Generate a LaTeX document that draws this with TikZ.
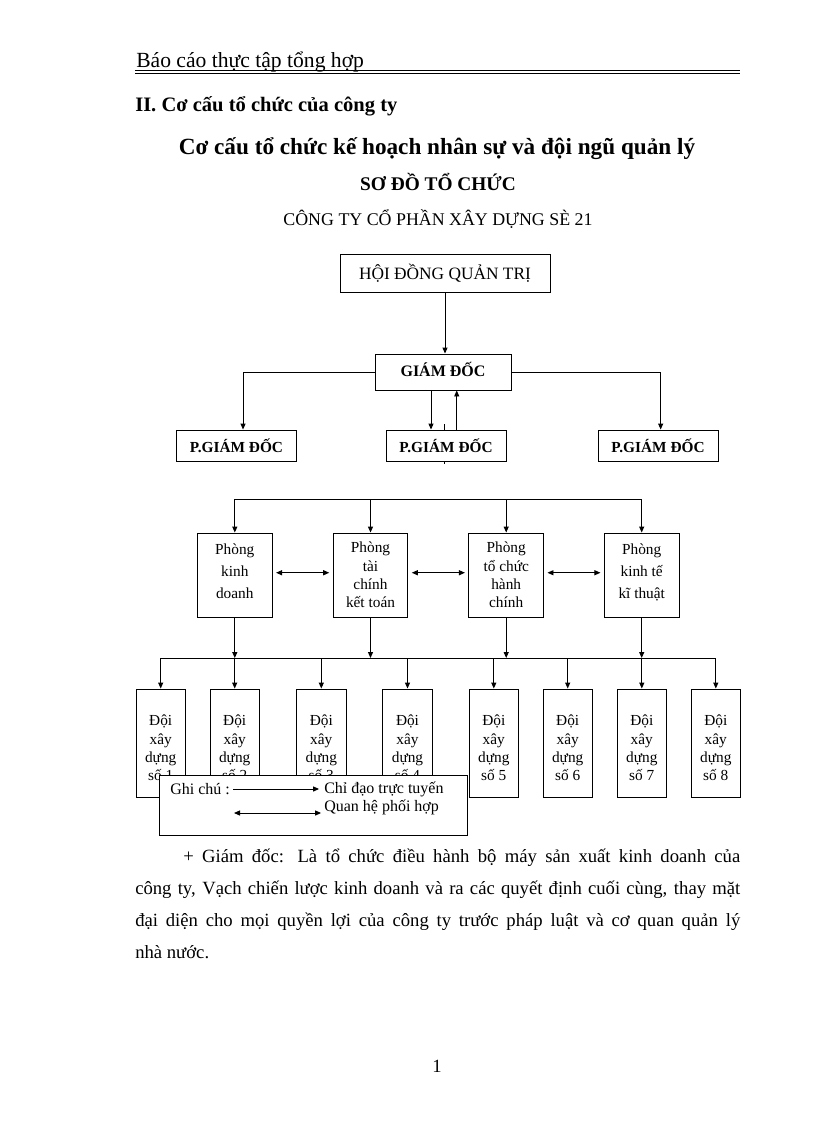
\documentclass[tikz,border=0pt]{standalone}
\usepackage{fontspec}
\setmainfont{Liberation Serif}
\usetikzlibrary{arrows.meta}
\newcommand\topgap{\rule{0pt}{15.5pt}}
\newcommand\botgap{\rule[-6pt]{0pt}{6pt}}
\tikzstyle{line} = [line width=0.7pt]
\tikzstyle{arrow} = [line width=0.7pt,-{Triangle[length=4.5pt,width=3.8pt]}]
\tikzstyle{both} = [line width=0.7pt,{Triangle[length=4.5pt,width=3.8pt]}-{Triangle[length=4.5pt,width=3.8pt]}]
\tikzstyle{box} = [draw,line width=0.7pt,fill=white,inner sep=0pt,align=center]
\tikzstyle{pbox} = [box,minimum width=90pt,minimum height=23.25pt,font=\bfseries\fontsize{11.5}{13}\selectfont]
\tikzstyle{dept} = [box,minimum width=56pt,minimum height=63pt,font=\fontsize{11.5}{13.7}\selectfont]
\tikzstyle{deptwide} = [dept,font=\fontsize{11.5}{16.5}\selectfont]
\tikzstyle{team} = [box,minimum width=37pt,minimum height=81pt,font=\fontsize{11.5}{13.7}\selectfont]
\tikzstyle{note} = [anchor=west,inner sep=0pt,font=\fontsize{12}{13.5}\selectfont]

\begin{document}
\begin{tikzpicture}[x=0.75pt,y=-0.75pt]
	\useasboundingbox (0,0) rectangle (816,1123);
	\node[anchor=base west,inner sep=0pt,font=\fontsize{16.2}{18}\selectfont] (header) at (136,68) {Báo cáo thực tập tổng hợp};
	\draw[line width=1.1pt] (135,70.5) -- (740,70.5);
	\draw[line width=0.55pt] (135,73.5) -- (740,73.5);
	\node[anchor=base west,inner sep=0pt,font=\bfseries\fontsize{15.4}{17}\selectfont] (section) at (135,112) {II. Cơ cấu tổ chức của công ty};
	\node[anchor=base,inner sep=0pt,font=\bfseries\fontsize{17.4}{19}\selectfont] (title) at (437,155) {Cơ cấu tổ chức kế hoạch nhân sự và đội ngũ quản lý};
	\node[anchor=base,inner sep=0pt,font=\bfseries\fontsize{14.5}{16}\selectfont] (sodo) at (438,191) {SƠ ĐỒ TỔ CHỨC};
	\node[anchor=base,inner sep=0pt,font=\fontsize{13.4}{15}\selectfont] (company) at (438,226) {CÔNG TY CỔ PHẦN XÂY DỰNG SÈ 21};

	\node[box,minimum width=157.5pt,minimum height=28.5pt,font=\fontsize{13}{15}\selectfont] (hdqt) at (445,273) {HỘI ĐỒNG QUẢN TRỊ};
	\node[box,minimum width=102pt,minimum height=27pt,text depth=4.5pt,font=\bfseries\fontsize{12}{14}\selectfont] (gd) at (443,372) {GIÁM ĐỐC};
	\node[pbox] (pgd1) at (236.5,445.5) {P.GIÁM ĐỐC};
	\node[pbox] (pgd2) at (446,445.5) {P.GIÁM ĐỐC};
	\node[pbox] (pgd3) at (658,445.5) {P.GIÁM ĐỐC};
	\draw[arrow] (hdqt.south) -- (hdqt.south |- gd.north);
	\draw[arrow] (gd.west) -| ([xshift=4.9pt]pgd1.north);
	\draw[arrow] (gd.east) -| ([xshift=2pt]pgd3.north);
	\draw[arrow] ([xshift=-9pt]gd.south) -- ([xshift=-9pt]gd.south |- pgd2.north);
	\draw[arrow] ([xshift=10.3pt]gd.south |- pgd2.north) -- ([xshift=10.3pt]gd.south);
	\draw[line] ([xshift=-1.3pt]pgd2.north) -- ++(0,-6);
	\draw[line] ([xshift=-1.3pt]pgd2.south) -- ++(0,3);

	\coordinate (deptbus) at (0,499);
	\node[deptwide] (d1) at (234.8,575) {Phòng\\kinh\\doanh\botgap};
	\node[dept] (d2) at (370.5,575) {Phòng\\tài\\chính\\kết toán};
	\node[dept] (d3) at (506.2,575) {Phòng\\tổ chức\\hành\\chính};
	\node[deptwide] (d4) at (641.7,575) {Phòng\\kinh tế\\kĩ thuật\botgap};
	\draw[line] (d1.north |- deptbus) -- (d4.north |- deptbus);
	\draw[arrow] (d1.north |- deptbus) -- (d1.north);
	\draw[arrow] (d2.north |- deptbus) -- (d2.north);
	\draw[arrow] (d3.north |- deptbus) -- (d3.north);
	\draw[arrow] (d4.north |- deptbus) -- (d4.north);
	\draw[both,shorten <=2.6pt,shorten >=2.6pt] ([yshift=1.7pt]d1.east) -- ([yshift=1.7pt]d2.west);
	\draw[both,shorten <=2.6pt,shorten >=2.6pt] ([yshift=1.7pt]d2.east) -- ([yshift=1.7pt]d3.west);
	\draw[both,shorten <=2.6pt,shorten >=2.6pt] ([yshift=1.7pt]d3.east) -- ([yshift=1.7pt]d4.west);

	\coordinate (teambus) at (0,658);
	\node[team] (t1) at (160.7,743) {\topgap Đội\\xây\\dựng\\số 1};
	\node[team] (t2) at (234.7,743) {\topgap Đội\\xây\\dựng\\số 2};
	\node[team] (t3) at (321.3,743) {\topgap Đội\\xây\\dựng\\số 3};
	\node[team] (t4) at (407.5,743) {\topgap Đội\\xây\\dựng\\số 4};
	\node[team] (t5) at (493.8,743) {\topgap Đội\\xây\\dựng\\số 5};
	\node[team] (t6) at (567.7,743) {\topgap Đội\\xây\\dựng\\số 6};
	\node[team] (t7) at (641.8,743) {\topgap Đội\\xây\\dựng\\số 7};
	\node[team] (t8) at (715.8,743) {\topgap Đội\\xây\\dựng\\số 8};
	\draw[arrow] (d1.south) -- (d1.south |- teambus);
	\draw[arrow] (d2.south) -- (d2.south |- teambus);
	\draw[arrow] (d3.south) -- (d3.south |- teambus);
	\draw[arrow] (d4.south) -- (d4.south |- teambus);
	\draw[line] (t1.north |- teambus) -- (t8.north |- teambus);
	\draw[arrow] (t1.north |- teambus) -- (t1.north);
	\draw[arrow] (t2.north |- teambus) -- (t2.north);
	\draw[arrow] (t3.north |- teambus) -- (t3.north);
	\draw[arrow] (t4.north |- teambus) -- (t4.north);
	\draw[arrow] (t5.north |- teambus) -- (t5.north);
	\draw[arrow] (t6.north |- teambus) -- (t6.north);
	\draw[arrow] (t7.north |- teambus) -- (t7.north);
	\draw[arrow] (t8.north |- teambus) -- (t8.north);

	\node[box,minimum width=231.3pt,minimum height=45pt] (legend) at (313.5,805) {};
	\node[note] (ghichu) at (170,789) {Ghi chú :};
	\node[note] (chidao) at (324,789) {Chỉ đạo trực tuyến};
	\node[note] (quanhe) at (324,807) {Quan hệ phối hợp};
	\coordinate (phoihop) at (234,813);
	\draw[arrow,shorten <=2.2pt,shorten >=3.7pt] (ghichu.east) -- (chidao.west);
	\draw[both] (phoihop) -- ([xshift=-2.2pt]phoihop -| quanhe.west);

	\node[anchor=north west,inner sep=0pt,text width=453.75pt,align=justify,font=\fontsize{14}{23.8}\selectfont] (para) at (135,849) {\hspace*{36pt}+ Giám đốc: Là tổ chức điều hành bộ máy sản xuất kinh doanh của\linebreak công ty, Vạch chiến lược kinh doanh và ra các quyết định cuối cùng, thay mặt\linebreak đại diện cho mọi quyền lợi của công ty trước pháp luật và cơ quan quản lý\linebreak nhà nước.};
	\node[anchor=base,inner sep=0pt,font=\fontsize{14}{16}\selectfont] (pageno) at (437,1072) {1};
\end{tikzpicture}
\end{document}
